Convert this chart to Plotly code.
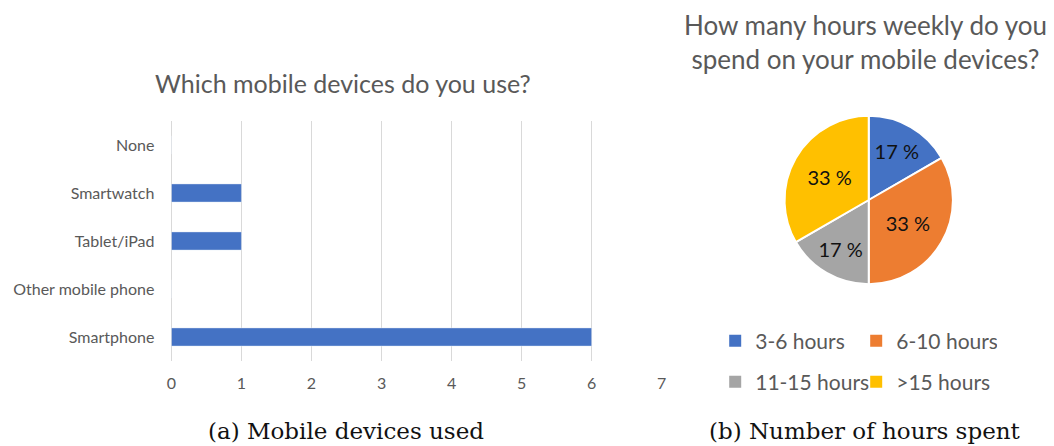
import plotly.graph_objects as go

# ---------------- data ----------------
devices = ["None", "Smartwatch", "Tablet/iPad", "Other mobile phone", "Smartphone"]
device_counts = [0, 1, 1, 0, 6]
x_tick_values = [0, 1, 2, 3, 4, 5, 6, 7]

hour_labels = ["3-6 hours", "6-10 hours", "11-15 hours", ">15 hours"]
hour_counts = [1, 2, 1, 2]
hour_colors = ["#4472C4", "#ED7D31", "#A5A5A5", "#FFC000"]

bar_title = "Which mobile devices do you use?"
pie_title = "How many hours weekly do you<br>spend on your mobile devices?"
caption_a = "(a) Mobile devices used"
caption_b = "(b) Number of hours spent"

# ---------------- style ----------------
W, H = 1054, 446
SANS = "Lato, 'Open Sans', sans-serif"
SERIF = "'DejaVu Serif', 'Liberation Serif', serif"
GREY = "#595959"

total = sum(hour_counts)
pie_text = [f"{round(100 * v / total)} %" for v in hour_counts]

fig = go.Figure()

fig.add_trace(go.Bar(
    y=devices, x=device_counts, orientation="h",
    marker=dict(color="#4472C4"), width=0.38,
    showlegend=False, xaxis="x", yaxis="y",
))

fig.add_trace(go.Pie(
    labels=hour_labels, values=hour_counts,
    sort=False, direction="clockwise", rotation=0,
    marker=dict(colors=hour_colors, line=dict(color="white", width=2)),
    text=pie_text, textinfo="text", textposition="inside",
    insidetextorientation="horizontal",
    textfont=dict(family=SANS, size=20, color="#111111"),
    domain=dict(x=[787 / W, 957 / W], y=[1 - 285 / H, 1 - 115 / H]),
    showlegend=False,
))

# legend entries (two rows, two columns)
for i, (lab, col) in enumerate(zip(hour_labels, hour_colors)):
    fig.add_trace(go.Scatter(
        x=[None], y=[None], mode="markers", name=lab,
        marker=dict(symbol="square", size=12, color=col),
        legend="legend" if i < 2 else "legend2",
        showlegend=True, hoverinfo="skip",
    ))

legend_common = dict(
    orientation="h", xanchor="left", yanchor="middle",
    font=dict(family=SANS, size=21, color=GREY),
    bgcolor="rgba(0,0,0,0)", entrywidth=96, entrywidthmode="pixels",
)

fig.update_layout(
    width=W, height=H,
    margin=dict(l=0, r=0, t=0, b=0),
    paper_bgcolor="white", plot_bgcolor="white",
    xaxis=dict(
        domain=[168 / W, 663 / W], range=[0, 7], tickvals=x_tick_values,
        showgrid=True, gridcolor="#D9D9D9", gridwidth=1,
        zeroline=True, zerolinecolor="#D9D9D9", zerolinewidth=1,
        showline=False, ticks="", ticklabelstandoff=11,
        tickfont=dict(family=SANS, size=16, color=GREY), fixedrange=True,
    ),
    yaxis=dict(
        domain=[1 - 361 / H, 1 - 121 / H], autorange="reversed",
        categoryorder="array", categoryarray=devices,
        showgrid=False, zeroline=False, showline=False, ticks="",
        ticklabelstandoff=16,
        tickfont=dict(family=SANS, size=16, color=GREY), fixedrange=True,
    ),
    legend=dict(x=717 / W, y=1 - 341 / H, **legend_common),
    legend2=dict(x=717 / W, y=1 - 382 / H, **legend_common),
    annotations=[
        dict(text=bar_title, x=341 / W, y=1 - 83 / H, xref="paper", yref="paper",
             showarrow=False, xanchor="center", yanchor="middle",
             font=dict(family=SANS, size=25, color=GREY)),
        dict(text=pie_title, x=869 / W, y=1 - 42 / H, xref="paper", yref="paper",
             showarrow=False, xanchor="center", yanchor="middle",
             font=dict(family=SANS, size=26, color=GREY)),
        dict(text=caption_a, x=344 / W, y=1 - 431 / H, xref="paper", yref="paper",
             showarrow=False, xanchor="center", yanchor="middle",
             font=dict(family=SERIF, size=23, color="#111111")),
        dict(text=caption_b, x=868 / W, y=1 - 431 / H, xref="paper", yref="paper",
             showarrow=False, xanchor="center", yanchor="middle",
             font=dict(family=SERIF, size=23, color="#111111")),
    ],
)

fig.write_html(
    "out.html",
    config={"displayModeBar": False},
    post_script="document.body.style.margin='0px';",
)
